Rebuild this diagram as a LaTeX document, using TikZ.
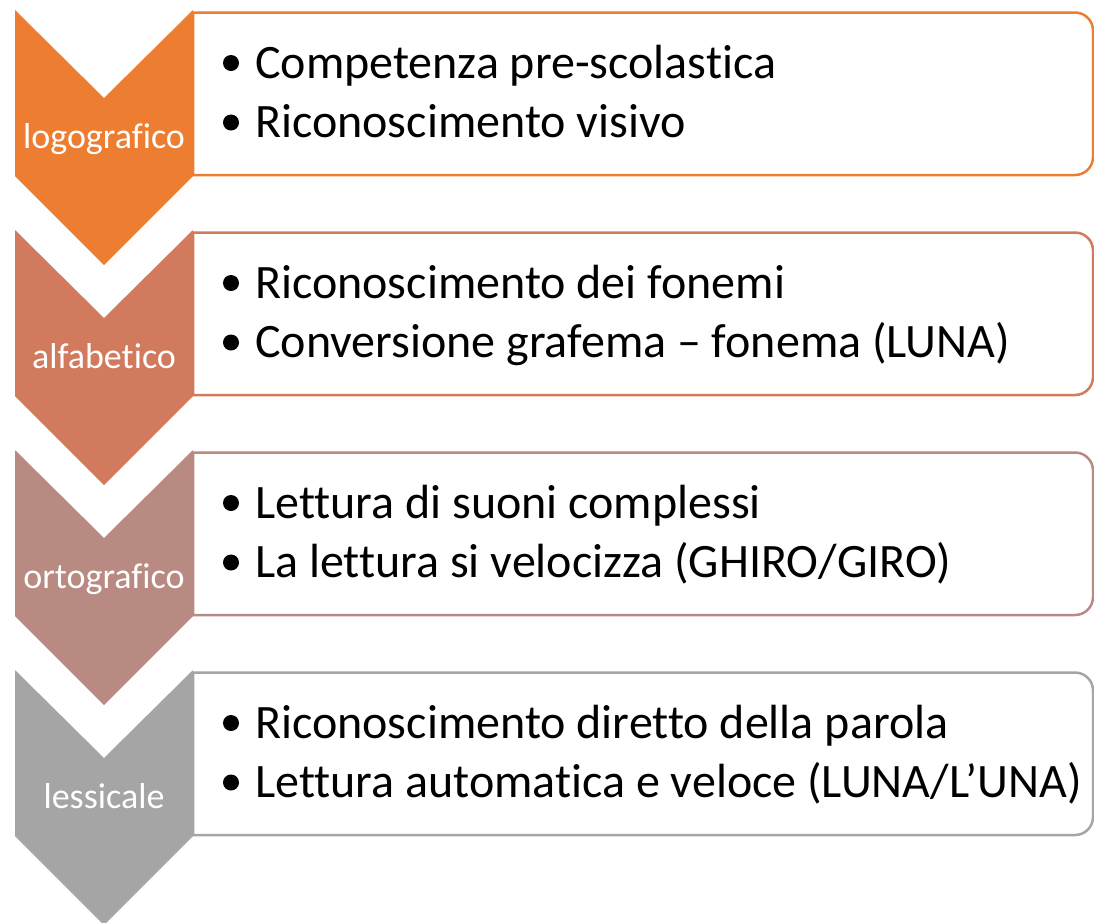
\documentclass[tikz,border=0pt]{standalone}
\usepackage{fontspec}
\setmainfont{Carlito}[Ligatures=NoCommon]
\usetikzlibrary{positioning,calc}
\definecolor{fase1}{HTML}{ED7D31}
\definecolor{fase2}{HTML}{D17A5E}
\definecolor{fase3}{HTML}{B98A81}
\definecolor{fase4}{HTML}{A5A5A5}

\begin{document}
\begin{tikzpicture}[x=1pt,y=-1pt,
    stage box/.style={draw=#1,line width=2.5pt,fill=white},
    phase node/.style={font=\fontsize{36}{43}\selectfont,text=white,inner sep=0pt,anchor=base},
    item node/.style={font=\fontsize{48}{58}\selectfont,inner sep=0pt,anchor=base west},
    dot/.style={circle,fill=black,inner sep=0pt,minimum size=16pt}]

    \useasboundingbox (0,0) rectangle (1094,922);

    \foreach \i/\fase/\col/\righa/\righb [
        evaluate = \i as \dy using {int(220*\i)},
    ] in {0/logografico/fase1/{Competenza pre-scolastica}/{Riconoscimento visivo},
          1/alfabetico/fase2/{Riconoscimento dei fonemi}/{Conversione grafema – fonema (LUNA)},
          2/ortografico/fase3/{Lettura di suoni complessi}/{La lettura si velocizza (GHIRO/GIRO)},
          3/lessicale/fase4/{Riconoscimento diretto della parola}/{Lettura automatica e veloce (LUNA/L’UNA)}}{
        % box on the right, rounded only on the right side
        \draw[stage box=\col] (193,12.5+\dy) -- (1075,12.5+\dy)
            arc[start angle=-90,end angle=0,radius=18] -- (1093,157+\dy)
            arc[start angle=0,end angle=90,radius=18] -- (193,175+\dy) -- cycle;
        % chevron
        \fill[\col] (15,10+\dy) -- (104,98+\dy) -- (193,10+\dy) -- (193,176+\dy)
            -- (104,265+\dy) -- (15,176+\dy) -- cycle;
        \node[phase node] (fase\i) at (104,148+\dy) {\fase};
        \node[item node] (riga\i a) at (255,78+\dy) {\righa};
        \node[item node] (riga\i b) at (255,137.5+\dy) {\righb};
        \node[dot] (punto\i a) at (231,63+\dy) {};
        \node[dot] (punto\i b) at (231,122.5+\dy) {};
    }

\end{tikzpicture}
\end{document}
